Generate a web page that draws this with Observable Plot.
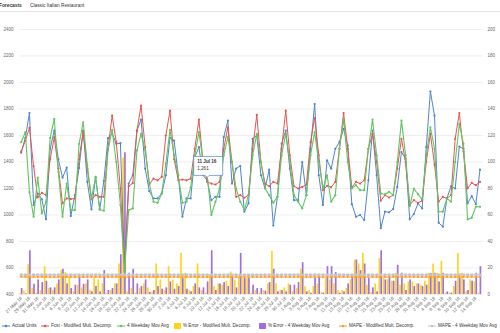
<!DOCTYPE html>
<html><head><meta charset="utf-8">
<script src="https://cdn.jsdelivr.net/npm/d3@7"></script>
<script src="https://cdn.jsdelivr.net/npm/@observablehq/plot@0.6"></script>
<style>
body{margin:0;background:#fff;font-family:"Liberation Sans",Arial,sans-serif;width:500px;height:333px;overflow:hidden;position:relative}
#hdr{height:11px;border-bottom:1px solid #e3e3e3;position:relative;font-size:4.8px;color:#333}
#hdr span{position:absolute;top:2.5px}
#chart{height:306px}
#legend{position:absolute;top:321px;left:0;width:500px;height:9px;font-size:4.6px;color:#333}
.li{position:absolute;top:0;height:9px;display:flex;align-items:center;white-space:nowrap}
.li svg{margin-right:2px}
</style></head><body>
<div id="hdr"><span style="left:-1px;font-weight:bold">Forecasts</span><span style="left:30px">Classic Italian Restaurant</span></div>
<div id="chart"></div>
<div id="legend"></div>
<script>
// ---- data (daily, 27 May 16 .. 15 Sep 16) ----
const actual = [1470,1583,1770,1075,1162,1118,967,1500,1637,1420,1282,1357,992,1150,1355,1637,1250,1042,1282,1042,1257,1580,1617,1537,1542,600,1237,1300,1637,1720,1350,1180,1125,1125,1162,1300,1583,1562,1300,987,1125,1125,1437,1512,1300,1261,1112,1137,1137,1587,1712,1237,1350,1370,1025,1087,1575,1600,1300,1200,1342,920,1137,1537,1637,1350,1112,1112,1400,1150,1500,1837,1300,1075,1412,1350,1500,1550,1650,1525,1082,987,1000,962,1262,1637,1300,900,1025,1020,1045,1212,1475,1425,967,1007,1087,1050,1512,1932,1750,942,912,1125,1217,1200,1517,1500,1087,1142,1082,1342];
const fcstMod = [1480,1560,1657,1367,1132,1167,1150,1420,1587,1350,1087,1125,1120,1125,1420,1632,1350,1117,1150,1137,1137,1500,1750,1550,1200,580,1217,1240,1637,1825,1512,1230,1275,1262,1287,1600,1787,1420,1262,1267,1262,1275,1500,1720,1400,1250,1237,1230,1250,1500,1662,1400,1137,1150,1130,1150,1500,1755,1400,1237,1217,1250,1237,1500,1787,1450,1217,1200,1212,1230,1550,1732,1450,1187,1220,1210,1250,1500,1770,1500,1207,1250,1237,1262,1500,1612,1400,1107,1150,1132,1150,1350,1575,1400,1075,1112,1092,1107,1400,1612,1380,1100,1137,1125,1150,1575,1770,1480,1200,1242,1225,1250];
const movAvg = [1550,1625,1172,987,1282,1012,1100,1582,1725,1325,987,1237,1037,1037,1537,1700,1375,1125,1287,1042,1032,1487,1642,1400,1075,570,1037,1050,1487,1612,1487,1237,1100,1092,1162,1387,1642,1450,1300,1092,1100,1207,1450,1625,1400,1300,1000,1100,1200,1450,1587,1400,1200,1100,1037,1150,1450,1612,1400,1200,1150,1092,1137,1450,1612,1400,1150,1100,1050,1150,1450,1625,1400,1200,1300,1100,1150,1500,1725,1400,1200,1225,1187,1187,1500,1720,1450,1162,1155,1175,1150,1400,1712,1450,1067,1200,1157,1117,1450,1662,1500,1025,1025,1125,1100,1400,1687,1537,967,980,1062,1062];
const errMod = [0.5,2.7,22.5,4.5,1,3,21,4.5,3,8,18,16.5,13,2,7,5,8,3,12,11,8,1,3,8,23,103,2,4.5,1,4.5,8,5,2,23,11,3,21,11,8,31,16,3,6,23,3,1,14.5,6,8,7,10,17,11,13,12,12,1,3,1,3,8,32.5,8,3,5,8,2,4.5,19,6,3,6,8,1.5,12,11,8,3,3,4.5,11,26,23,31,7,1.5,8,27,12,11,10,16,7,8,9.5,9.5,8,7,10,16,23,16,25,1,1,6,31,16,2,11,9.5,1];
const errMov = [4.5,0.5,33,7.7,11,9,10,5,5,11,19,8,4.5,7,13,7.7,11,2,6,2,18,3,4.5,8,30,107,16,19,8,6,11,1.5,3,6,4,5,9.5,4,6,12,4,2,8,5,5,9.5,33,3,8,9,6,13,5,31,12,12,7,4.5,4.5,2.5,9,19,2,3,2,7,7,9,24,2,1,12.5,13,1,21,21,16.5,1,2,8,13,26,18,23,12,5,2,33,11,13,10,22,16,3,11,6,8,6,7,16,16,9.5,16,2,1,10,12,11,3,10,16,21];
const mapeMod = 13.2;
const mapeMov = 14.8;
const leftTicks = [400,600,800,1000,1200,1400,1600,1800,2000,2200,2400];
const tipIndex = 45;

// ---- derived ----
const start = new Date(Date.UTC(2016,4,27));
const fmtDay = d3.utcFormat("%-d %b %y");
const dayLabels = actual.map((_, i) => fmtDay(d3.utcDay.offset(start, i)));
const rows = actual.map((v, i) => ({i, actual: v, fcst: fcstMod[i], mov: movAvg[i], eMod: errMod[i], eMov: errMov[i], mMod: mapeMod, mMov: mapeMov}));
const pct = p => 400 + p * 10; // right axis (0..200) shares the left scale (400..2400)

const C = {blue:"#4f86c6", red:"#e8554f", green:"#62c462", yellow:"#ffd31a", purple:"#9f6ddd", orange:"#ff9a2e", grey:"#c4c4c4"};

const tipBox = {draw(ctx){ const l=-13.5,r=15.5,t=-24,b=-5; ctx.moveTo(l,t); ctx.lineTo(r,t); ctx.lineTo(r,b); ctx.lineTo(2,b); ctx.lineTo(0,b+2); ctx.lineTo(-2,b); ctx.lineTo(l,b); ctx.closePath(); }};
const tipRow = rows.filter(d => d.i === tipIndex);

const chart = Plot.plot({
  width: 500, height: 306,
  marginTop: 17, marginBottom: 24, marginLeft: 19, marginRight: 17,
  style: {fontFamily: "Liberation Sans, Arial, sans-serif", fontSize: "4.5px", background: "white", overflow: "visible"},
  x: {type: "linear", domain: [-0.41, 111.85]},
  y: {domain: [400, 2400]},
  marks: [
    Plot.ruleY(leftTicks, {stroke: "#e6e6e6", strokeWidth: 0.7}),
    Plot.rect(rows, {x1: d => d.i - 0.42, x2: d => d.i - 0.02, y1: 400, y2: d => pct(d.eMod), fill: C.yellow}),
    Plot.rect(rows, {x1: d => d.i + 0.02, x2: d => d.i + 0.42, y1: 400, y2: d => pct(d.eMov), fill: C.purple}),
    Plot.line(rows, {x: "i", y: d => pct(d.mMov), stroke: C.grey, strokeWidth: 1}),
    Plot.dot(rows, {x: "i", y: d => pct(d.mMov), symbol: "square", r: 1.6, fill: C.grey}),
    Plot.line(rows, {x: "i", y: d => pct(d.mMod), stroke: C.orange, strokeWidth: 1}),
    Plot.dot(rows, {x: "i", y: d => pct(d.mMod), r: 1.0, fill: C.orange}),
    Plot.line(rows, {x: "i", y: "actual", stroke: C.blue, strokeWidth: 1}),
    Plot.dot(rows, {x: "i", y: "actual", r: 1.1, fill: C.blue}),
    Plot.line(rows, {x: "i", y: "fcst", stroke: C.red, strokeWidth: 1}),
    Plot.dot(rows, {x: "i", y: "fcst", r: 1.1, fill: C.red}),
    Plot.line(rows, {x: "i", y: "mov", stroke: C.green, strokeWidth: 1.1}),
    Plot.dot(rows, {x: "i", y: "mov", r: 1.1, fill: C.green}),
    Plot.axisY({anchor: "left", ticks: leftTicks, tickFormat: d3.format("d"), tickSize: 0, tickPadding: 6, label: null, color: "#666", fontSize: 4.5}),
    Plot.axisY({anchor: "right", ticks: leftTicks, tickFormat: d => String((d - 400) / 10), tickSize: 0, tickPadding: 4, label: null, color: "#666", fontSize: 4.5, textAnchor: "start"}),
    Plot.axisX({ticks: d3.range(0, actual.length, 2), tickFormat: i => dayLabels[i], tickRotate: -45, tickSize: 0, tickPadding: 3, label: null, color: "#666", fontSize: 4.5}),
    Plot.dot(tipRow, {x: "i", y: "actual", symbol: tipBox, fill: "white", stroke: C.blue, strokeWidth: 0.7}),
    Plot.text(tipRow, {x: "i", y: "actual", text: d => dayLabels[d.i], dx: -10, dy: -18.5, textAnchor: "start", fontWeight: "bold", fontSize: 4.6, fill: "#333"}),
    Plot.text(tipRow, {x: "i", y: "actual", text: d => d3.format(",")(d.actual), dx: -10, dy: -11.5, textAnchor: "start", fontSize: 4.6, fill: "#333"})
  ]
});
document.getElementById("chart").appendChild(chart);

// ---- legend ----
const legendItems = [
  {name: "Actual Units", color: C.blue, kind: "line", x: 2},
  {name: "Fcst - Modified Mult. Decomp.", color: C.red, kind: "line", x: 41},
  {name: "4 Weekday Mov Avg", color: C.green, kind: "line", x: 117},
  {name: "% Error - Modified Mult. Decomp.", color: C.yellow, kind: "box", x: 174},
  {name: "% Error - 4 Weekday Mov Avg", color: C.purple, kind: "box", x: 259},
  {name: "MAPE - Modified Mult. Decomp.", color: C.orange, kind: "line", x: 339},
  {name: "MAPE - 4 Weekday Mov Avg", color: C.grey, kind: "line", x: 428}
];
const lg = document.getElementById("legend");
for (const it of legendItems) {
  const el = document.createElement("div");
  el.className = "li";
  el.style.left = it.x + "px";
  const icon = it.kind === "line"
    ? `<svg width="8" height="6"><line x1="0" y1="3" x2="8" y2="3" stroke="${it.color}" stroke-width="1"/><circle cx="4" cy="3" r="1.3" fill="${it.color}"/></svg>`
    : `<svg width="7" height="6"><rect x="0" y="0" width="7" height="6" rx="0.8" fill="${it.color}"/></svg>`;
  el.innerHTML = icon + `<span>${it.name}</span>`;
  lg.appendChild(el);
}
</script>
</body></html>
